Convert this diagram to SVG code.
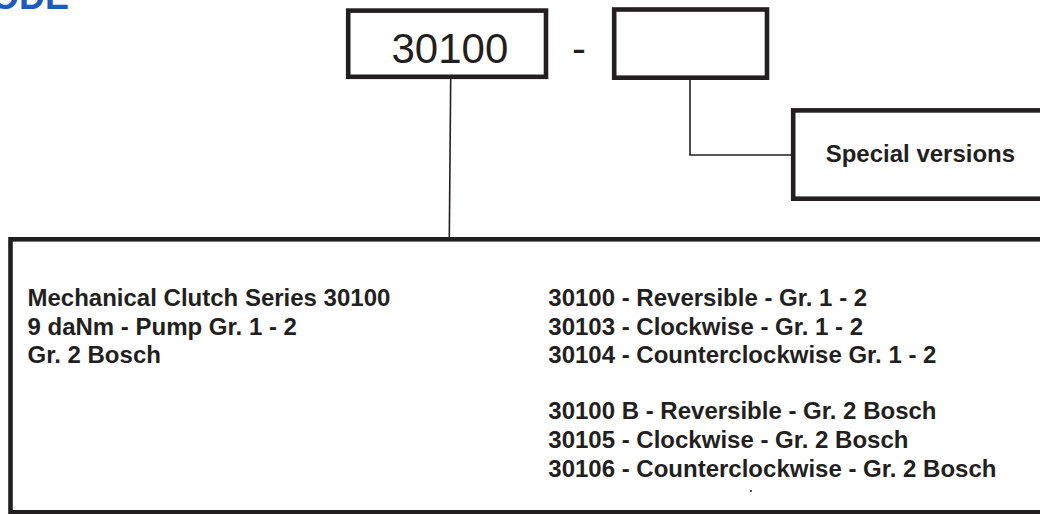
<svg xmlns="http://www.w3.org/2000/svg" width="1040" height="514" viewBox="0 0 1040 514">
<style>
.box{fill:#ffffff;stroke:#231f20;stroke-width:4.6}
.conn{fill:none;stroke:#231f20;stroke-width:1.6}
.t{font-family:"Liberation Sans",Arial,sans-serif;fill:#231f20}
.b{font-weight:bold;font-size:24px}
.big{font-size:42px}
.title{font-family:"Liberation Sans",Arial,sans-serif;font-weight:bold;font-size:36px;fill:#1f5bbd}
</style>
<rect width="1040" height="514" fill="#ffffff"/>
<text class="title" x="-9" y="9">ODE</text>
<g id="connectors">
<line class="conn" x1="450.7" y1="79" x2="449.3" y2="238"/>
<polyline class="conn" points="690,79 690,155 792,155"/>
</g>
<g id="node-code">
<rect class="box" x="348.2" y="10.6" width="197.8" height="66.2"/>
<text class="t big" x="391.5" y="62.7">30100</text>
</g>
<text class="t big" x="572" y="63">-</text>
<g id="node-suffix">
<rect class="box" x="614.2" y="9.5" width="152.8" height="68.2"/>
</g>
<g id="node-special">
<rect class="box" x="793.2" y="110.4" width="260" height="88.3"/>
<text class="t b" x="825.7" y="162.3">Special versions</text>
</g>
<g id="node-details">
<rect class="box" x="10.5" y="239.3" width="1040" height="273"/>
<text class="t b" x="27.5" y="306">Mechanical Clutch Series 30100</text>
<text class="t b" x="27.5" y="335">9 daNm - Pump Gr. 1 - 2</text>
<text class="t b" x="27.5" y="363.3">Gr. 2 Bosch</text>
<text class="t b" x="548.3" y="306">30100 - Reversible - Gr. 1 - 2</text>
<text class="t b" x="548.3" y="334.5">30103 - Clockwise - Gr. 1 - 2</text>
<text class="t b" x="548.3" y="363.3">30104 - Counterclockwise Gr. 1 - 2</text>
<text class="t b" x="548.3" y="419.3">30100 B - Reversible - Gr. 2 Bosch</text>
<text class="t b" x="548.3" y="448.3">30105 - Clockwise - Gr. 2 Bosch</text>
<text class="t b" x="548.3" y="477.3">30106 - Counterclockwise - Gr. 2 Bosch</text>
<circle cx="751" cy="491" r="1" fill="#231f20"/>
</g>
</svg>
